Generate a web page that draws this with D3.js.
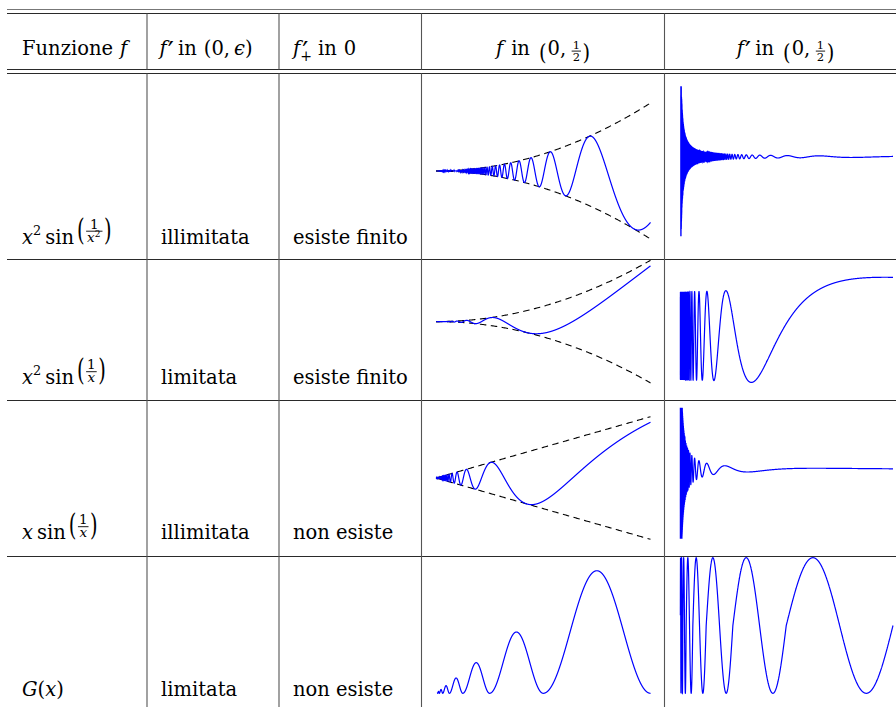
<!DOCTYPE html>
<html><head><meta charset="utf-8">
<script src="https://cdn.jsdelivr.net/npm/d3@7"></script>
<style>
body{margin:0;background:#fff}
svg{display:block}
svg text{font-family:"DejaVu Serif",serif;fill:#000;white-space:pre}
</style></head><body>
<svg id="c" width="896" height="707"></svg>
<script>
// ---------- data ----------
const columnTitles = ["Funzione f", "f′ in (0, ϵ)", "f′₊ in 0", "f in (0, 1/2)", "f′ in (0, 1/2)"];
const functionNames = ["x² sin(1/x²)", "x² sin(1/x)", "x sin(1/x)", "G(x)"];
const derivativeBehaviour = ["illimitata", "limitata", "illimitata", "limitata"];
const rightDerivativeAtZero = ["esiste finito", "esiste finito", "non esiste", "non esiste"];
const xDomain = [0, 0.5];
const fDomains = [[-0.25, 0.25], [-0.25, 0.25], [-0.5, 0.5], [0, 0.0796]];
const dfDomains = [[-530, 470], [-1, 1], [-172, 153], [-1, 1]];
const fStart = [0.0005, 0.0005, 0.0005, 0.003];
const dfStart = [0.003, 0.002, 0.002, 0.002];

// the functions named in the first column, and their derivatives
function dyadic(x){ return Math.pow(2, Math.floor(Math.log2(x))); }
const functions = [
  { f: x => x*x*Math.sin(1/(x*x)),
    df: x => 2*x*Math.sin(1/(x*x)) - (2/x)*Math.cos(1/(x*x)),
    env: x => x*x, clipDf: true },
  { f: x => x*x*Math.sin(1/x),
    df: x => 2*x*Math.sin(1/x) - Math.cos(1/x),
    env: x => x*x, clipDf: false },
  { f: x => x*Math.sin(1/x),
    df: x => Math.sin(1/x) - Math.cos(1/x)/x,
    env: x => x, clipDf: true },
  { f: x => { const a = dyadic(x), t = (x-a)/a; return a/(2*Math.PI)*(1-Math.cos(2*Math.PI*t)); },
    df: x => { const a = dyadic(x), t = (x-a)/a; return Math.sin(2*Math.PI*t); },
    env: null, clipDf: false }
];

// ---------- layout ----------
const svg = d3.select("#c");
const FS = 19.5;
const W = 896;
const colX = [147, 279, 421.5, 664.5];
const hTop = [9.5, 13.5], hHead = [69.5, 73.5];
const rowLines = [259.5, 400.5, 556.5];
const rowTop = [73.5, 259.5, 400.5, 556.5], rowBot = [259.5, 400.5, 556.5, 707];
const rowBase = [243.5, 384, 539, 695.5];
const headBase = 55;

// rules
const lines = svg.append("g").attr("stroke-width", 1.1);
[...hTop, ...hHead, ...rowLines].forEach((y, i) => {
  lines.append("line").attr("x1", 7).attr("x2", W).attr("y1", y).attr("y2", y)
    .attr("stroke", i === 0 ? "#777" : "#2a2a2a");
});
colX.forEach(x => {
  lines.append("line").attr("x1", x).attr("x2", x).attr("y1", 13.5).attr("y2", 69.5).attr("stroke", "#555");
  lines.append("line").attr("x1", x).attr("x2", x).attr("y1", 73.5).attr("y2", 707).attr("stroke", "#555");
});

// ---------- math text helper ----------
function drawRun(parent, parts, size){
  let x = 0;
  for (const p of parts){
    if (p.gap !== undefined){ x += p.gap; continue; }
    if (p.t !== undefined){
      const e = parent.append("text").attr("x", x).attr("y", p.dy || 0)
        .style("font-size", (p.size || size) + "px")
        .style("font-style", p.it ? "italic" : "normal").text(p.t);
      x += e.node().getComputedTextLength() + (p.after || 0); continue;
    }
    if (p.prime){
      const e = parent.append("text").attr("x", x + (p.dx || 0)).attr("y", 6)
        .style("font-family", "'DejaVu Sans',sans-serif").style("font-size", "27px").text("′");
      let w = e.node().getComputedTextLength() * 0.7 + (p.dx || 0);
      if (p.sub){
        const s = parent.append("text").attr("x", x).attr("y", 6).style("font-size", "14px").text(p.sub);
        w = Math.max(w, s.node().getComputedTextLength());
      }
      x += w; continue;
    }
    if (p.script){
      let w = 0;
      const ss = p.script.size || size*0.66;
      if (p.script.sup !== undefined){
        const e = parent.append("text").attr("x", x)
          .attr("y", p.script.supY !== undefined ? p.script.supY : -size*0.45)
          .style("font-size", ss + "px").text(p.script.sup);
        w = Math.max(w, e.node().getComputedTextLength());
      }
      x += w + 1; continue;
    }
    if (p.paren){
      const g = parent.append("g").attr("transform", `translate(${x},${p.dy}) scale(1,${p.sy})`);
      const e = g.append("text").style("font-size", size + "px").text(p.paren);
      x += e.node().getComputedTextLength() + (p.after || 0); continue;
    }
    if (p.frac){
      const gn = parent.append("g"), gd = parent.append("g");
      const wn = drawRun(gn, p.frac[0], p.size), wd = drawRun(gd, p.frac[1], p.size);
      const w = Math.max(wn, wd) + 3;
      gn.attr("transform", `translate(${x + (w - wn)/2},${p.numY})`);
      gd.attr("transform", `translate(${x + (w - wd)/2},${p.denY})`);
      parent.append("line").attr("x1", x + 0.5).attr("x2", x + w - 0.5)
        .attr("y1", p.barY).attr("y2", p.barY).attr("stroke", "#000").attr("stroke-width", 0.9);
      x += w + 1; continue;
    }
  }
  return x;
}
function mathText(x0, y, parts, anchor){
  const g = svg.append("g");
  const w = drawRun(g, parts, FS);
  const sx = anchor === "middle" ? x0 - w/2 : x0;
  g.attr("transform", `translate(${sx},${y})`);
}

// ---------- header ----------
// DejaVu Serif "(" spans about -0.76em .. +0.13em; centre ≈ -0.31em
const rowParen = { sy: 1.5, dy: -12.6 + 0.31 * FS * 1.5 };
const headParen = { sy: 1.1, dy: -1.5 + 0.31 * FS * 1.1 };
const halfFrac = { frac: [[{t: "1"}], [{t: "2"}]], size: 11.5, numY: -5.8, denY: 6.4, barY: -3.9 };
const titleParts = [
  [{t: columnTitles[0].split(" ")[0]}, {gap: 7}, {t: "f", it: 1}],
  [{t: "f", it: 1}, {prime: 1, dx: 1}, {gap: 6}, {t: "in"}, {gap: 7}, {t: "(0,"}, {gap: 4}, {t: "ϵ", it: 1}, {t: ")"}],
  [{t: "f", it: 1}, {prime: 1, dx: 2, sub: "+"}, {gap: 6}, {t: "in"}, {gap: 7}, {t: "0"}],
  [{t: "f", it: 1}, {gap: 8}, {t: "in"}, {gap: 9}, Object.assign({paren: "(", after: 1}, headParen), {t: "0,"}, {gap: 5}, halfFrac, Object.assign({paren: ")"}, headParen)],
  [{t: "f", it: 1}, {prime: 1, dx: 1}, {gap: 6}, {t: "in"}, {gap: 9}, Object.assign({paren: "(", after: 1}, headParen), {t: "0,"}, {gap: 5}, halfFrac, Object.assign({paren: ")"}, headParen)]
];
mathText(22, headBase, titleParts[0]);
mathText(159.5, headBase, titleParts[1]);
mathText(293, headBase, titleParts[2]);
mathText((colX[2] + colX[3]) / 2, headBase, titleParts[3], "middle");
mathText(colX[3] + 121, headBase, titleParts[4], "middle");

// ---------- row labels ----------
function fracOf(den){ return { frac: [[{t: "1"}], den], size: 13.5, numY: -15, denY: -1.8, barY: -12.3 }; }
const xsq = [{t: "x", it: 1}, {script: {sup: "2", supY: -5, size: 9}}];
const labelParts = [
  [{t: "x", it: 1}, {script: {sup: "2"}}, {gap: 3}, {t: "sin"}, {gap: 3}, Object.assign({paren: "(", after: 1}, rowParen), fracOf(xsq), Object.assign({paren: ")"}, rowParen)],
  [{t: "x", it: 1}, {script: {sup: "2"}}, {gap: 3}, {t: "sin"}, {gap: 3}, Object.assign({paren: "(", after: 1}, rowParen), fracOf([{t: "x", it: 1}]), Object.assign({paren: ")"}, rowParen)],
  [{t: "x", it: 1}, {gap: 4}, {t: "sin"}, {gap: 3}, Object.assign({paren: "(", after: 1}, rowParen), fracOf([{t: "x", it: 1}]), Object.assign({paren: ")"}, rowParen)],
  [{t: "G", it: 1}, {t: "("}, {t: "x", it: 1}, {t: ")"}]
];
functionNames.forEach((name, i) => {
  mathText(22, rowBase[i], labelParts[i]);
  svg.append("text").attr("x", 161).attr("y", rowBase[i]).style("font-size", FS + "px").text(derivativeBehaviour[i]);
  svg.append("text").attr("x", 293).attr("y", rowBase[i]).style("font-size", FS + "px").text(rightDerivativeAtZero[i]);
});

// ---------- plots ----------
const fRanges = [[239, 103], [382.9, 260.3], [539.3, 416.7], [693.3, 570.7]];
const dfRanges = [[235.7, 86.7], [380, 291.7], [538.3, 408.3], [693.3, 557.7]];
const xLeft = d3.scaleLinear().domain(xDomain).range([436, 650.5]);
const xRight = d3.scaleLinear().domain(xDomain).range([679.5, 893]);
function samples(x0, n){ return d3.range(n + 1).map(i => x0 + (xDomain[1] - x0) * i / n); }

const defs = svg.append("defs");
functions.forEach((fn, i) => {
  // f column
  const yF = d3.scaleLinear().domain(fDomains[i]).range(fRanges[i]);
  const gF = svg.append("g");
  if (fn.env){
    const xs = d3.range(0, 201).map(k => xDomain[1] * k / 200);
    [1, -1].forEach(s => {
      gF.append("path").datum(xs)
        .attr("d", d3.line().x(d => xLeft(d)).y(d => yF(s * fn.env(d))))
        .attr("fill", "none").attr("stroke", "#000").attr("stroke-width", 1.1)
        .attr("stroke-dasharray", "6.5,4.5");
    });
  }
  gF.append("path").datum(samples(fStart[i], 5000))
    .attr("d", d3.line().x(d => xLeft(d)).y(d => yF(fn.f(d))))
    .attr("fill", "none").attr("stroke", "#0000ff").attr("stroke-width", 1.2);

  // f' column
  const yD = d3.scaleLinear().domain(dfDomains[i]).range(dfRanges[i]);
  const cid = "clip" + i;
  const y0 = fn.clipDf ? dfRanges[i][1] - 0.5 : rowTop[i];
  const y1 = fn.clipDf ? dfRanges[i][0] + 0.5 : rowBot[i];
  defs.append("clipPath").attr("id", cid).append("rect")
    .attr("x", colX[3] + 1).attr("width", W - colX[3])
    .attr("y", y0).attr("height", y1 - y0);
  svg.append("g").attr("clip-path", `url(#${cid})`)
    .append("path").datum(samples(dfStart[i], 30000))
    .attr("d", d3.line().x(d => xRight(d)).y(d => yD(fn.df(d))))
    .attr("fill", "none").attr("stroke", "#0000ff").attr("stroke-width", 1.2);
});
</script>
</body></html>
